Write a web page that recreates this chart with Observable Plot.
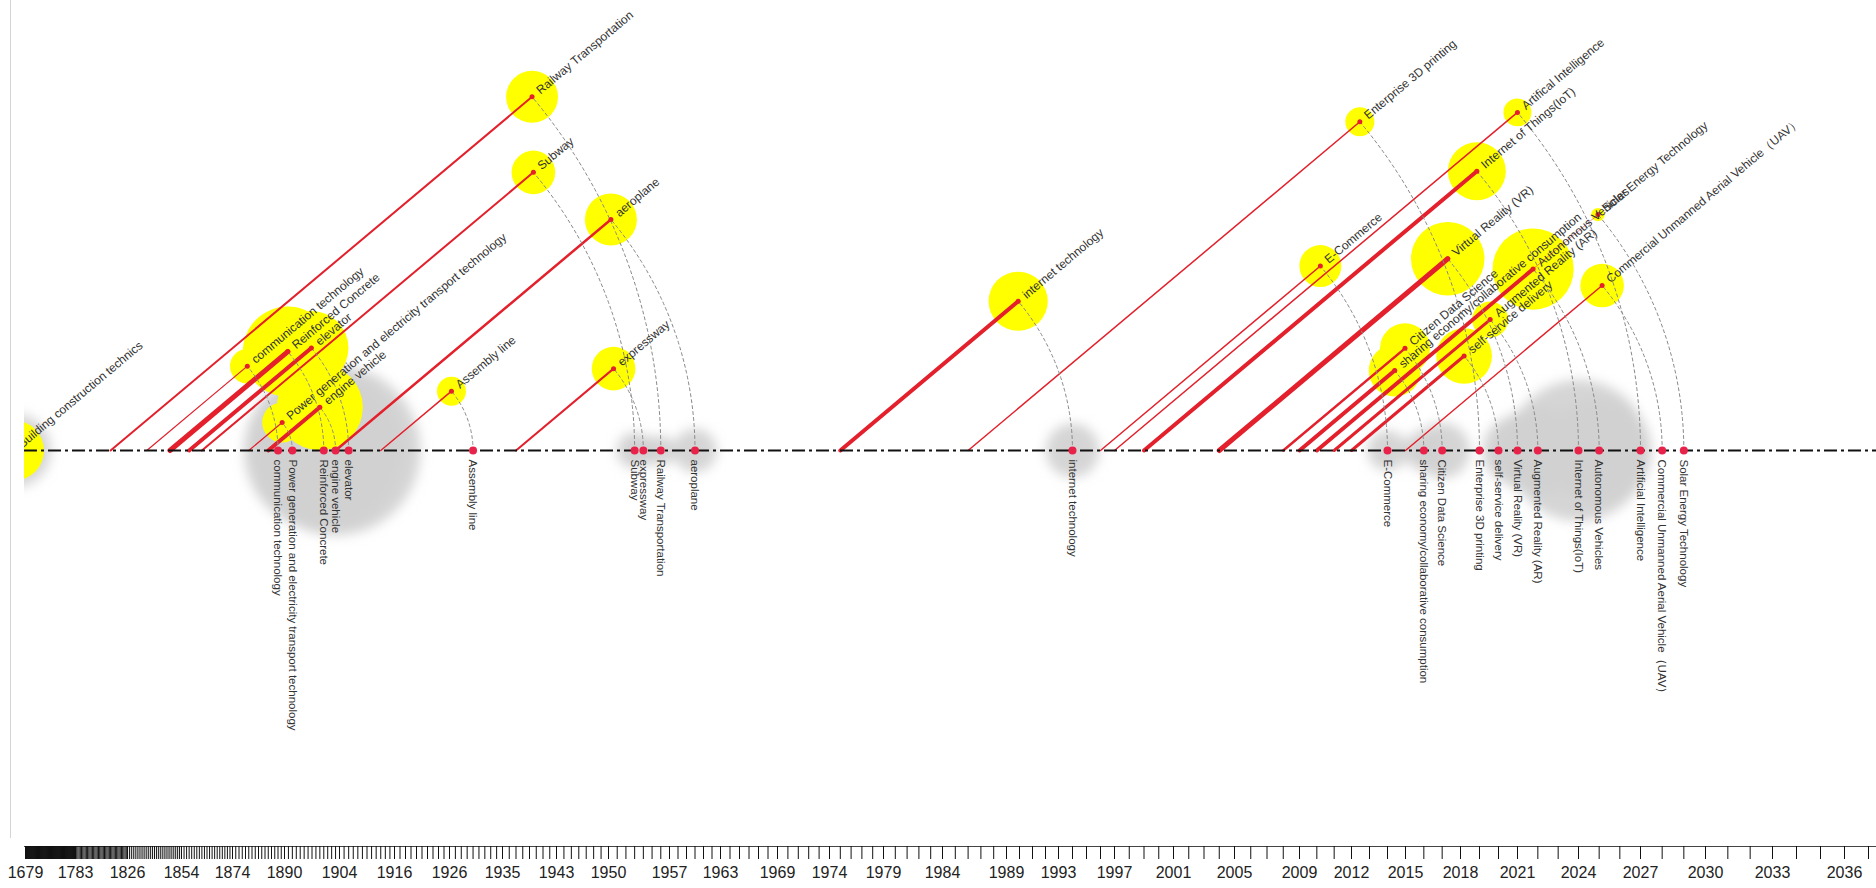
<!DOCTYPE html>
<html>
<head>
<meta charset="utf-8">
<script src="https://cdn.jsdelivr.net/npm/d3@7"></script>
<script src="https://cdn.jsdelivr.net/npm/@observablehq/plot@0.6"></script>
<style>
  html, body { margin: 0; padding: 0; background: #fff; }
  #chart { position: relative; width: 1876px; height: 888px; overflow: hidden; }
  #edge { position: absolute; left: 10px; top: 0; height: 838px; border-left: 1px solid #d4d4d4; }
</style>
</head>
<body>
<div id="chart"><div id="edge"></div></div>
<script>
// ---------------- data ----------------
const names = [
  "Building construction technics", "communication technology", "Reinforced Concrete", "elevator",
  "Power generation and electricity transport technology", "engine vehicle", "Railway Transportation",
  "Subway", "aeroplane", "expressway", "Assembly line", "internet technology", "Enterprise 3D printing",
  "E-Commerce", "Artificial Intelligence", "Internet of Things(IoT)", "Virtual Reality (VR)",
  "Citizen Data Science", "sharing economy/collaborative consumption", "Autonomous Vehicles",
  "Solar Energy Technology", "Augmented Reality (AR)", "self-service delivery",
  "Commercial Unmanned Aerial Vehicle（UAV）"
];
const bubbleNames = [
  "Building construction technics", "communication technology", "Reinforced Concrete", "elevator",
  "Power generation and electricity transport technology", "engine vehicle", "Railway Transportation",
  "Subway", "aeroplane", "expressway", "Assembly line", "internet technology", "Enterprise 3D printing",
  "E-Commerce", "Artifical Intelligence", "Internet of Things(IoT)", "Virtual Reality (VR)",
  "Citizen Data Science", "sharing economy/collaborative consumption", "Autonomous Vehicles",
  "Solar Energy Technology", "Augmented Reality (AR)", "self-service delivery",
  "Commercial Unmanned Aerial Vehicle（UAV）"
];
// year the trend line starts on the timeline
const startYear = [1655, 1836, 1848, 1857, 1879, 1885, 1812, 1862, 1903, 1937, 1913, 1975, 1986,
                   1996, 1997, 1999, 2004, 2008, 2009, 2010, 2010, 2011, 2012, 2015];
// year of the node on the timeline
const endYear   = [1655, 1888, 1900, 1906, 1892, 1903, 1956, 1953, 1960, 1954, 1930, 1994, 2019,
                   2014, 2027, 2024, 2021, 2017, 2016, 2025, 2029, 2022, 2020, 2028];
// yellow bubble value
const bubbleValue = [36, 12, 81, 55, 16, 74, 27, 19, 27, 19, 8.4, 35, 8.4,
                     17.6, 7.8, 33.6, 54, 25, 27, 66, 1.8, 13, 31, 19];
// grey halo value on the timeline
const haloValue = [55, 0, 256, 0, 0, 289, 9, 13, 19, 9, 0, 29, 0,
                   16, 0, 200, 49, 31, 16, 110, 0, 80, 0, 0];
// strength of the trend line
const strength = [0, 2.4, 10, 8, 2.4, 8, 4, 4, 5, 4, 3, 8, 3,
                  3, 3, 8, 10, 5, 8, 8, 1, 6, 6, 3];

// timeline tick labels
const labelYears = [1679, 1783, 1826, 1854, 1874, 1890, 1904, 1916, 1926, 1935, 1943, 1950, 1957,
  1963, 1969, 1974, 1979, 1984, 1989, 1993, 1997, 2001, 2005, 2009, 2012, 2015, 2018, 2021, 2024,
  2027, 2030, 2033, 2036];

// ---------------- layout / scales ----------------
const W = 1876, H = 888, marginBottom = 42, marginLeft = 24;
const axisPx = [25, 75, 127, 181, 232, 284, 339, 394, 449, 502, 556, 608, 669, 720, 777, 829, 883,
  942, 1006, 1058, 1114, 1173, 1234, 1299, 1351, 1405, 1460, 1517, 1578, 1640, 1705, 1772, 1844];
const yDomain = [-(H - marginBottom - 450), 450]; // y in pixels above the timeline
const angle = 40 * Math.PI / 180;
const red = "#e3202b", yellow = "#ffff00";

const xOpts = {type: "linear", domain: labelYears, range: axisPx};
const xs = Plot.scale({x: xOpts});
const widthScale = d3.scaleLinear().domain([0, 10]).range([0, 5]);

const items = names.map((name, i) => {
  const x0 = xs.apply(startYear[i]);
  const x1 = xs.apply(endYear[i]);
  const L = x1 - x0;
  return {
    name, label: bubbleNames[i], s: startYear[i], e: endYear[i], x0, L,
    bx: xs.invert(x0 + L * Math.cos(angle)), by: L * Math.sin(angle),
    bubble: bubbleValue[i], halo: haloValue[i], w: widthScale(strength[i])
  };
});
const lined = items.filter(d => d.L > 0);
const arcs = [];
for (const d of lined) {
  for (let k = 0; k <= 48; k++) {
    const t = angle * k / 48;
    arcs.push({name: d.name, x: xs.invert(d.x0 + d.L * Math.cos(t)), y: d.L * Math.sin(t)});
  }
}
const allYears = d3.range(1679, 2039);
const labelSet = new Set(labelYears);

const chart = Plot.plot({
  width: W, height: H,
  marginLeft, marginRight: 0, marginTop: 0, marginBottom,
  style: {fontFamily: "'Liberation Sans', Arial, Helvetica, sans-serif", background: "white", overflow: "visible"},
  x: xOpts,
  y: {domain: yDomain, axis: null},
  r: {type: "sqrt", domain: [0, 100], range: [0, 50]},
  marks: [
    Plot.dot(items, {x: "e", y: 0, r: "halo", fill: "#d0d0d0", fillOpacity: 0.9, clip: true, ariaDescription: "halo"}),
    Plot.dot(items, {x: "bx", y: "by", r: "bubble", fill: yellow, clip: true}),
    Plot.link(lined, {x1: "s", y1: 0, x2: "bx", y2: "by", stroke: red, strokeWidth: "w", strokeLinecap: "round"}),
    Plot.line(arcs, {x: "x", y: "y", z: "name", stroke: "#8a8a8a", strokeWidth: 1, strokeDasharray: "3,3"}),
    Plot.ruleY([0], {stroke: "#111", strokeWidth: 2, strokeDasharray: "13,4,3,4"}),
    Plot.dot(lined, {x: "bx", y: "by", r: 2.5, fill: red}),
    Plot.dot(items, {x: "e", y: 0, r: 4, fill: "#e8234a", clip: true}),
    Plot.text(items, {x: "bx", y: "by", text: "label", rotate: -40, textAnchor: "start", dx: 6, dy: -5,
      fontSize: 12, fill: "#333", clip: true}),
    Plot.text(items, {x: "e", y: 0, text: "name", rotate: 90, textAnchor: "start", dy: 9,
      fontSize: 11.5, fill: "#333", clip: true}),
    Plot.ruleY([yDomain[0]], {stroke: "#444", strokeWidth: 1}),
    Plot.axisX(allYears, {anchor: "bottom", tickSize: 13, tickPadding: 7, fontSize: 16, fill: "#222",
      stroke: "#111", tickFormat: d => labelSet.has(d) ? String(d) : "", label: null})
  ]
});

const defs = document.createElementNS("http://www.w3.org/2000/svg", "defs");
defs.innerHTML = '<filter id="haloBlur" x="-50%" y="-50%" width="200%" height="200%"><feGaussianBlur stdDeviation="6"/></filter>';
chart.insertBefore(defs, chart.firstChild);
const haloG = chart.querySelector('g[aria-description="halo"]');
if (haloG) haloG.setAttribute("filter", "url(#haloBlur)");

document.getElementById("chart").appendChild(chart);
</script>
</body>
</html>
